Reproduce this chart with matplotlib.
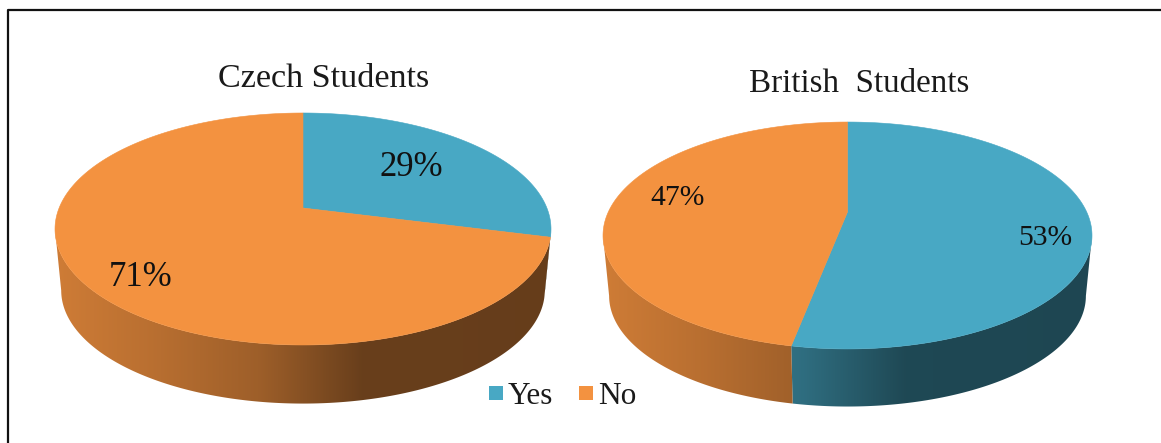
import numpy as np
import matplotlib
matplotlib.use('Agg')
from matplotlib import pyplot as plt
from matplotlib.patches import Polygon, Rectangle

categories = ['Yes', 'No']
czech_values = [29, 71]
british_values = [53, 47]
czech_title = 'Czech Students'
british_title = 'British  Students'

colors = ['#48A8C4', '#F39240']
shade_pos = [0.0, 0.2, 0.41, 0.62, 1.0]
shade_val = [0.85, 0.76, 0.65, 0.43, 0.42]

plt.rcParams['font.family'] = ['Liberation Serif', 'DejaVu Serif']


def project(theta, cx, cy, a, b, k):
    # perspective view of a flat disc, theta runs clockwise from the top
    u = np.sin(theta)
    v = np.cos(theta)
    w = 1 + k * v
    return cx + a * u / w, cy - b * v / w


def draw_side(ax, t0, t1, color, geom):
    cx, cy, a, b, k, depth, shrink = geom
    front0 = np.pi / 2 + np.arcsin(k)
    front1 = 3 * np.pi / 2 - np.arcsin(k)
    t0, t1 = max(t0, front0), min(t1, front1)
    if t1 <= t0:
        return
    t = np.linspace(t0, t1, 200)
    x1, y1 = project(t, cx, cy, a, b, k)
    x2, y2 = project(t, cx, cy + depth, a * shrink, b * shrink, k)
    pts = np.column_stack([np.r_[x1, x2[::-1]], np.r_[y1, y2[::-1]]])
    poly = Polygon(pts, closed=True, fc='none', ec='none')
    ax.add_patch(poly)

    # left to right shading of the rim
    half = a / np.sqrt(1 - k * k)
    xs = np.linspace(cx - half, cx + half, 400)
    shade = np.interp((xs - xs[0]) / (xs[-1] - xs[0]), shade_pos, shade_val)
    rgb = np.array(matplotlib.colors.to_rgb(color))
    grad = (shade[:, None] * rgb)[None, :, :]
    im = ax.imshow(grad, extent=[xs[0], xs[-1], cy + depth + b / (1 - k), cy - b],
                   aspect='auto', interpolation='bilinear', zorder=2)
    im.set_clip_path(poly)


def draw_pie(ax, values, geom):
    cx, cy, a, b, k, depth, shrink = geom
    edges = 2 * np.pi * np.cumsum([0] + values) / sum(values)
    for i in range(len(values)):
        draw_side(ax, edges[i], edges[i + 1], colors[i], geom)
    for i in range(len(values)):
        t = np.linspace(edges[i], edges[i + 1], 300)
        x, y = project(t, cx, cy, a, b, k)
        pts = np.column_stack([np.r_[cx, x], np.r_[cy, y]])
        ax.add_patch(Polygon(pts, closed=True, fc=colors[i], ec=colors[i], lw=0.4, zorder=3))


fig = plt.figure(figsize=(11.61, 4.43), dpi=100)
ax = fig.add_axes([0, 0, 1, 1])

czech_geom = (303, 208, 243.9, 112.2, 0.181, 62, 0.975)
british_geom = (847.5, 212, 239.2, 108.6, 0.207, 61, 0.975)
draw_pie(ax, czech_values, czech_geom)
draw_pie(ax, british_values, british_geom)

ax.set_xlim(0, 1161)
ax.set_ylim(443, 0)
ax.axis('off')

# frame only runs along the top and left
ax.plot([7.5, 7.5, 1161], [443, 9.5, 9.5], color='#111111', lw=1.6, zorder=5)

ax.text(324, 79, czech_title, fontsize=24.6, ha='center', va='center', color='#1a1a1a', zorder=6)
ax.text(859, 84, british_title, fontsize=23.8, ha='center', va='center', color='#1a1a1a', zorder=6)

ax.text(411, 168, f'{czech_values[0]}%', fontsize=25, ha='center', va='center', color='#111111', zorder=6)
ax.text(141, 278, f'{czech_values[1]}%', fontsize=25, ha='center', va='center', color='#111111', zorder=6)
ax.text(1045, 238, f'{british_values[0]}%', fontsize=21.3, ha='center', va='center', color='#111111', zorder=6)
ax.text(678, 198, f'{british_values[1]}%', fontsize=21.3, ha='center', va='center', color='#111111', zorder=6)

# legend
for x0, name, col in zip([489, 579], categories, colors):
    ax.add_patch(Rectangle((x0, 386), 14, 14, fc=col, ec='none', zorder=6))
    ax.text(x0 + 19, 396, name, fontsize=22.5, ha='left', va='center', color='#1a1a1a', zorder=6)

fig.savefig('out.png', dpi=100, facecolor='white')
